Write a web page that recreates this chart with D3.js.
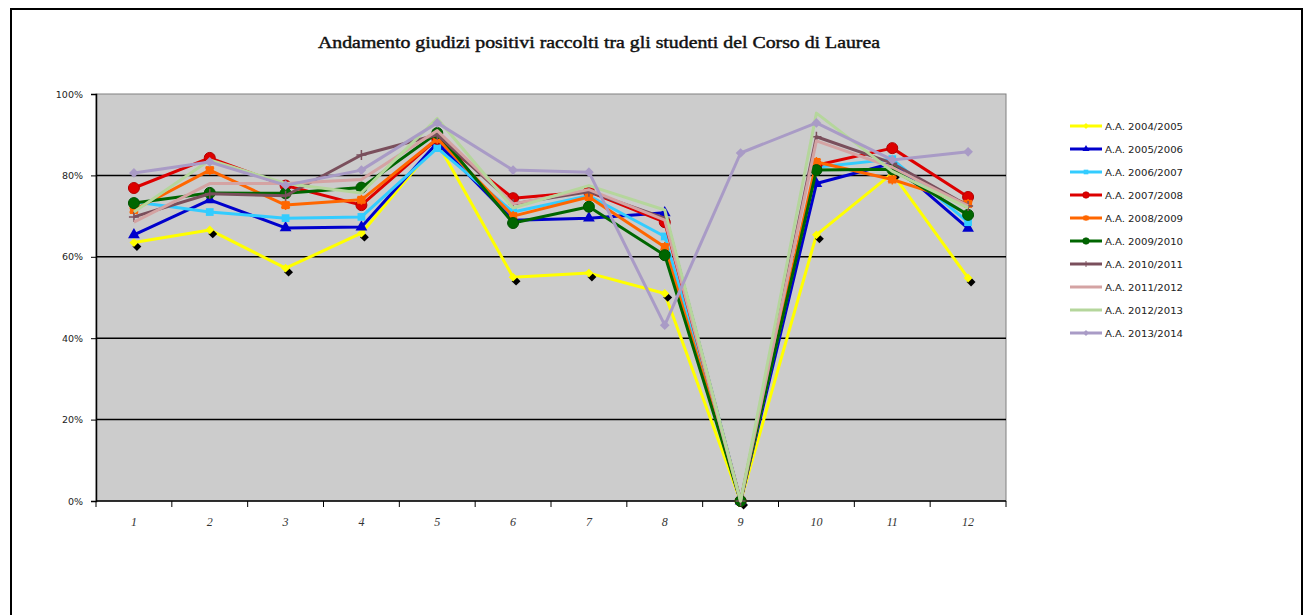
<!DOCTYPE html>
<html>
<head>
<meta charset="utf-8">
<script src="https://cdn.jsdelivr.net/npm/d3@7"></script>
<style>
  body { margin: 0; background: #fff; }
  svg { display: block; }
</style>
</head>
<body>
<div id="chart-area"></div>
<script>
// categories (questions 1..12)
const categories = ["1", "2", "3", "4", "5", "6", "7", "8", "9", "10", "11", "12"]
const yTicks = [0, 20, 40, 60, 80, 100]

// one array per academic year, values in %
const aa0405 = [63.5, 66.6, 57.2, 65.8, 88, 55, 56, 51, 0, 65.4, 80.5, 54.8]
const aa0506 = [65.4, 74, 67.1, 67.3, 88, 69, 69.5, 70.8, 0, 78, 83, 67]
const aa0607 = [73.5, 71, 69.5, 69.8, 86.7, 71, 75, 65, 0, 82, 84, 68.5]
const aa0708 = [76.9, 84.3, 77.5, 72.7, 89, 74.4, 76, 68.5, 0, 82.5, 86.7, 74.7]
const aa0809 = [71.5, 81.3, 72.7, 74, 89, 70, 74.7, 62.4, 0, 83.3, 79, 73]
const aa0910 = [73.2, 75.7, 75.6, 77, 90.4, 68.3, 72.3, 60.4, 0, 81.3, 81.5, 70.3]
const aa1011 = [69.8, 75.5, 75, 85, 90, 73, 76, 69.5, 0, 89.5, 83, 72.5]
const aa1112 = [68.5, 78, 78, 79, 91, 73, 76.5, 69, 0, 88.5, 82, 72.5]
const aa1213 = [71, 83.8, 78, 75.7, 94, 72, 77.5, 71.5, 0, 95.3, 81, 72]
const aa1314 = [80.6, 83.3, 77.6, 81.3, 92.9, 81.3, 80.8, 43.2, 85.5, 92.9, 83.8, 85.8]

const seriesNames = ["A.A. 2004/2005", "A.A. 2005/2006", "A.A. 2006/2007", "A.A. 2007/2008",
  "A.A. 2008/2009", "A.A. 2009/2010", "A.A. 2010/2011", "A.A. 2011/2012",
  "A.A. 2012/2013", "A.A. 2013/2014"]
const seriesValues = [aa0405, aa0506, aa0607, aa0708, aa0809, aa0910, aa1011, aa1112, aa1213, aa1314]
const seriesColors = ["#ffff00", "#0000cc", "#33ccff", "#dd0000", "#ff6600", "#006600",
  "#7a4f5c", "#d4a3a3", "#b5d69c", "#a99bc6"]
const seriesMarkers = ["diamondShadow", "triangle", "square", "circle", "asterisk", "circle",
  "plus", "none", "none", "diamond"]

const W = 1311, H = 615
const PLOT = { LEFT: 96, RIGHT: 1006, TOP: 94, BOTTOM: 501 }

const svg = d3.select("#chart-area").append("svg")
  .attr("width", W)
  .attr("height", H)

// outer chart frame
svg.append("rect")
  .attr("x", 11).attr("y", 9)
  .attr("width", 1291).attr("height", 640)
  .attr("fill", "#fff")
  .attr("stroke", "#000")
  .attr("stroke-width", 2)

// title
svg.append("text")
  .attr("x", 599)
  .attr("y", 48)
  .attr("text-anchor", "middle")
  .attr("font-family", "Liberation Serif, DejaVu Serif, serif")
  .attr("font-size", "17px")
  .attr("fill", "#111")
  .attr("stroke", "#111")
  .attr("stroke-width", 0.45)
  .attr("textLength", 562)
  .attr("lengthAdjust", "spacingAndGlyphs")
  .text("Andamento giudizi positivi raccolti tra gli studenti del Corso di Laurea")

const x = d3.scaleBand()
  .domain(categories)
  .range([PLOT.LEFT, PLOT.RIGHT])

const y = d3.scaleLinear()
  .domain([0, 100])
  .range([PLOT.BOTTOM, PLOT.TOP])

// plot background
svg.append("rect")
  .attr("x", PLOT.LEFT).attr("y", PLOT.TOP)
  .attr("width", PLOT.RIGHT - PLOT.LEFT)
  .attr("height", PLOT.BOTTOM - PLOT.TOP)
  .attr("fill", "#cccccc")
  .attr("stroke", "#808080")
  .attr("stroke-width", 1)

// gridlines
svg.append("g")
  .selectAll("line")
  .data(yTicks.filter(d => d > 0 && d < 100))
  .join("line")
    .attr("x1", PLOT.LEFT).attr("x2", PLOT.RIGHT)
    .attr("y1", d => y(d)).attr("y2", d => y(d))
    .attr("stroke", "#000")
    .attr("stroke-width", 1.5)

// Y axis
const yAxisCall = d3.axisLeft(y)
  .tickValues(yTicks)
  .tickSize(5)
  .tickPadding(8)
  .tickFormat(d => d + "%")
const yAxisGroup = svg.append("g")
  .attr("transform", `translate(${PLOT.LEFT}, 0)`)
  .call(yAxisCall)
yAxisGroup.select(".domain").attr("stroke", "#000").attr("stroke-width", 1.5)
yAxisGroup.selectAll("line").attr("stroke", "#000")
yAxisGroup.selectAll("text")
  .attr("font-family", "DejaVu Sans, Verdana, sans-serif")
  .attr("font-size", "9.5px")
  .attr("fill", "#222")

// X axis: ticks at category boundaries, labels centered
const xAxisGroup = svg.append("g")
  .attr("transform", `translate(0, ${PLOT.BOTTOM})`)
xAxisGroup.append("line")
  .attr("x1", PLOT.LEFT).attr("x2", PLOT.RIGHT)
  .attr("stroke", "#000").attr("stroke-width", 1.5)
xAxisGroup.selectAll("line.tick")
  .data(categories.concat(["end"]))
  .join("line")
    .attr("class", "tick")
    .attr("x1", (d, i) => PLOT.LEFT + i * x.bandwidth())
    .attr("x2", (d, i) => PLOT.LEFT + i * x.bandwidth())
    .attr("y1", 0).attr("y2", 6)
    .attr("stroke", "#000")
xAxisGroup.selectAll("text")
  .data(categories)
  .join("text")
    .attr("x", d => x(d) + x.bandwidth() / 2)
    .attr("y", 25)
    .attr("text-anchor", "middle")
    .attr("font-family", "Liberation Serif, DejaVu Serif, serif")
    .attr("font-style", "italic")
    .attr("font-size", "12px")
    .attr("fill", "#333")
    .text(d => d)

const cx = d => x(d) + x.bandwidth() / 2

const line = d3.line()
  .x((v, i) => cx(categories[i]))
  .y(v => y(v))

function drawMarker(g, type, color, size) {
  if (type === "none") return
  if (type === "diamondShadow") {
    g.append("path")
      .attr("d", d3.symbol(d3.symbolDiamond2, size * 5)())
      .attr("transform", "translate(3,4)")
      .attr("fill", "#000")
    g.append("path")
      .attr("d", d3.symbol(d3.symbolDiamond2, size * 5)())
      .attr("fill", color)
    return
  }
  if (type === "circle") {
    g.append("circle").attr("r", size / 2 + 0.5).attr("fill", color)
      .attr("stroke", d3.color(color).darker(0.6)).attr("stroke-width", 1)
    return
  }
  if (type === "plus") {
    g.append("path")
      .attr("d", `M${-size / 2},0H${size / 2}M0,${-size / 2}V${size / 2}`)
      .attr("stroke", color).attr("stroke-width", 1.5)
    return
  }
  if (type === "asterisk") {
    g.append("path")
      .attr("d", d3.symbol(d3.symbolAsterisk, size * 7)())
      .attr("fill", "none")
      .attr("stroke", color).attr("stroke-width", 1.5)
    g.append("rect").attr("x", -4).attr("y", -4).attr("width", 8).attr("height", 8)
      .attr("fill", color)
    return
  }
  const sym = { triangle: d3.symbolTriangle, square: d3.symbolSquare, diamond: d3.symbolDiamond2 }[type]
  g.append("path")
    .attr("d", d3.symbol(sym, size * 6)())
    .attr("fill", color)
}

// series
const seriesGroup = svg.append("g")
seriesValues.forEach((vals, si) => {
  const color = seriesColors[si]
  const g = seriesGroup.append("g")
  g.append("path")
    .datum(vals)
    .attr("d", line)
    .attr("fill", "none")
    .attr("stroke", color)
    .attr("stroke-width", 3)
    .attr("stroke-linejoin", "round")
  vals.forEach((v, i) => {
    const m = g.append("g")
      .attr("transform", `translate(${cx(categories[i])}, ${y(v)})`)
    drawMarker(m, seriesMarkers[si], color, 10)
  })
})

// legend
const legend = svg.append("g")
  .attr("transform", "translate(1070, 126)")
seriesNames.forEach((name, i) => {
  const row = legend.append("g").attr("transform", `translate(0, ${i * 23})`)
  row.append("line")
    .attr("x1", 0).attr("x2", 32)
    .attr("stroke", seriesColors[i])
    .attr("stroke-width", 3)
  const m = row.append("g").attr("transform", "translate(16, 0) scale(0.6)")
  drawMarker(m, seriesMarkers[i] === "diamondShadow" ? "diamond" : seriesMarkers[i], seriesColors[i], 10)
  row.append("text")
    .attr("x", 35)
    .attr("y", 3.5)
    .attr("font-family", "DejaVu Sans, Verdana, sans-serif")
    .attr("font-size", "9.5px")
    .attr("fill", "#222")
    .attr("textLength", 78)
    .attr("lengthAdjust", "spacingAndGlyphs")
    .text(name)
})
</script>
</body>
</html>
